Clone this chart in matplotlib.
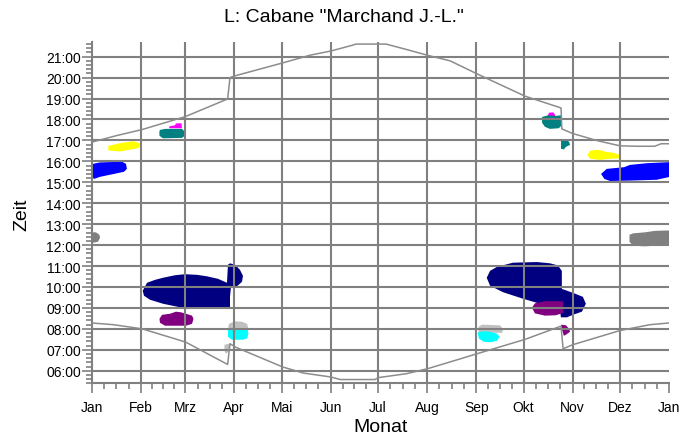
import matplotlib
matplotlib.use("Agg")
import matplotlib.pyplot as plt
from matplotlib.ticker import FixedLocator, FuncFormatter

plt.rcParams['font.family'] = ['Liberation Sans', 'DejaVu Sans']

# month starts (day of year) and labels
month_days = [0, 31, 59, 90, 120, 151, 181, 212, 243, 273, 304, 334, 365]
month_labels = ['Jan', 'Feb', 'Mrz', 'Apr', 'Mai', 'Jun', 'Jul', 'Aug',
                'Sep', 'Okt', 'Nov', 'Dez', 'Jan']
hour_ticks = list(range(6, 22))

# sunset (upper line), day of year vs. hour
sunset_day = [0, 15.6, 31.8, 59.2, 85.8, 87.3, 90.3, 120.6, 138, 151.2, 165, 167, 186,
              199, 212, 226.5, 243.5, 274, 296.7, 297.2, 304, 320, 334, 345, 356, 360, 365]
sunset_hour = [16.92, 17.23, 17.52, 18.14, 18.98, 20.0, 20.08, 20.70, 21.07, 21.27, 21.55, 21.6, 21.6,
               21.34, 21.07, 20.8, 20.18, 19.11, 18.55, 17.55, 17.33, 16.98, 16.74, 16.72, 16.72,
               16.84, 16.84]

# sunrise (lower line)
sunrise_day = [0, 13.5, 31.8, 59.2, 85.8, 87.3, 90.7, 120.6, 133.7, 151.2, 157, 179,
               181, 199, 212.4, 226.5, 243.5, 274, 296.7, 298, 304, 334, 353, 365]
sunrise_hour = [8.28, 8.2, 8.0, 7.37, 6.3, 7.29, 7.13, 6.18, 5.89, 5.7, 5.58, 5.58,
                5.67, 5.86, 6.1, 6.42, 6.81, 7.5, 8.13, 7.05, 7.24, 7.92, 8.2, 8.28]

# shadow areas: outline (day, hour) and colour
blue_jan_day = [0.6, 5.1, 19.0, 21.5, 22.1, 20.2, 12.7, 5.1, 1.3, 0, 0]
blue_jan_hour = [15.88, 15.95, 15.98, 15.88, 15.64, 15.5, 15.38, 15.26, 15.16, 15.26, 15.74]

yellow_jan_day = [10.3, 17.7, 29.3, 31.0, 26.1, 17.7, 10.3]
yellow_jan_hour = [16.52, 16.47, 16.63, 16.84, 16.96, 16.87, 16.73]

magenta_mar_day = [48.9, 48.9, 52.5, 53.1, 56.6, 56.9]
magenta_mar_hour = [17.58, 17.67, 17.72, 17.81, 17.82, 17.58]

teal_mar_day = [43.0, 46.2, 56.9, 58.8, 58.8, 56.9, 44.9, 42.7, 42.6]
teal_mar_hour = [17.5, 17.55, 17.55, 17.41, 17.22, 17.12, 17.10, 17.22, 17.41]

gray_jan_day = [0, 2.5, 4.7, 5.1, 3.8, 0.6, 0]
gray_jan_hour = [12.61, 12.61, 12.49, 12.35, 12.16, 12.11, 12.11]

navy_mar_day = [32.1, 34.8, 39.9, 44.9, 52.5, 58.8, 66.4, 72.7, 79.7, 85.4, 86.0, 87.3,
                90.5, 93.6, 95.5, 94.9, 91.7, 87.9, 87.3, 87.3, 68.3, 55.7, 44.9, 36.7, 32.9]
navy_mar_hour = [9.82, 10.2, 10.34, 10.44, 10.56, 10.61, 10.58, 10.51, 10.39, 10.2, 11.06, 11.13,
                 11.06, 10.82, 10.53, 10.25, 10.03, 9.99, 9.53, 8.96, 8.96, 9.03, 9.2, 9.39, 9.58]

purple_feb_day = [42.7, 44.3, 49.3, 53.1, 56.3, 59.5, 63.3, 64.2, 63.3, 59.5, 46.2, 43.0]
purple_feb_hour = [8.48, 8.67, 8.72, 8.82, 8.79, 8.72, 8.63, 8.48, 8.24, 8.15, 8.15, 8.29]

silver_apr_day = [86.0, 86.7, 90.5, 94.9, 98.1, 99.0, 98.7, 86.0]
silver_apr_hour = [8.0, 8.24, 8.36, 8.34, 8.24, 8.0, 7.86, 7.86]

cyan_apr_day = [86.0, 98.1, 99.0, 98.1, 95.5, 88.6, 86.0]
cyan_apr_hour = [7.96, 7.96, 7.77, 7.55, 7.48, 7.48, 7.62]

silver_mar_day = [83.8, 86.7, 87.0, 84.8, 83.8]
silver_mar_hour = [7.24, 7.29, 6.95, 6.81, 6.95]

navy_oct_day = [249.7, 251.8, 256.2, 266.3, 281.5, 289.7, 294.7, 297.2, 297.2, 304.2, 310.5,
                312.4, 309.9, 304.2, 300.4, 296.6, 296.0, 283.4, 272.6, 260.0, 251.8]
navy_oct_hour = [10.44, 10.77, 10.96, 11.16, 11.19, 11.13, 11.03, 10.77, 9.91, 9.72, 9.53,
                 9.2, 8.82, 8.67, 8.55, 8.55, 8.96, 9.2, 9.44, 9.75, 10.06]

purple_oct_day = [278.3, 280.2, 286.6, 297.9, 298.3, 293.5, 286.6, 280.2]
purple_oct_hour = [9.01, 9.22, 9.32, 9.32, 8.77, 8.65, 8.63, 8.74]

silver_sep_day = [244.5, 246.7, 258.1, 260.0, 259.4, 244.5]
silver_sep_hour = [8.1, 8.2, 8.17, 8.0, 7.81, 7.81]

cyan_sep_day = [243.9, 246.7, 251.8, 256.2, 257.8, 256.2, 251.8, 248.0, 244.8]
cyan_sep_hour = [7.81, 7.89, 7.86, 7.77, 7.62, 7.43, 7.36, 7.38, 7.53]

purple_nov_day = [296.7, 299.8, 301.8, 302.4, 299.8, 298.5, 297.3]
purple_nov_hour = [8.2, 8.17, 8.0, 7.86, 7.72, 7.67, 7.96]

magenta_oct_day = [288.2, 289.1, 291.7, 293.0, 293.0]
magenta_oct_hour = [18.17, 18.32, 18.34, 18.22, 18.12]

teal_oct_day = [284.7, 288.5, 293.5, 296.6, 297.3, 297.3, 295.3, 289.6, 286.5, 284.7]
teal_oct_hour = [18.12, 18.2, 18.17, 18.2, 18.03, 17.74, 17.58, 17.55, 17.65, 17.84]

teal_nov_day = [296.7, 299.8, 301.8, 302.4, 299.8, 298.5, 296.7]
teal_nov_hour = [17.07, 17.05, 16.93, 16.79, 16.69, 16.57, 16.6]

yellow_nov_day = [313.4, 315.0, 318.8, 322.6, 325.2, 330.2, 333.4, 333.4, 327.7, 321.4, 315.0]
yellow_nov_hour = [16.31, 16.5, 16.55, 16.52, 16.45, 16.41, 16.31, 16.14, 16.12, 16.07, 16.12]

blue_dec_day = [322.0, 325.6, 336.6, 340.3, 350.9, 364.6, 365, 365, 357.2, 340.3, 327.7, 324.1]
blue_dec_hour = [15.4, 15.64, 15.72, 15.83, 15.91, 15.96, 15.96, 15.25, 15.12, 15.08, 15.06, 15.16]

gray_dec_day = [340.0, 342.2, 349.8, 356.1, 364.4, 365, 365, 359.6, 349.8, 342.2, 340.0]
gray_dec_hour = [12.49, 12.56, 12.61, 12.68, 12.70, 12.68, 12.06, 11.99, 11.94, 11.97, 12.16]

shadows = [
    (blue_jan_day, blue_jan_hour, '#0000ff'),
    (yellow_jan_day, yellow_jan_hour, '#ffff00'),
    (magenta_mar_day, magenta_mar_hour, '#ff00ff'),
    (teal_mar_day, teal_mar_hour, '#008080'),
    (gray_jan_day, gray_jan_hour, '#808080'),
    (navy_mar_day, navy_mar_hour, '#000080'),
    (purple_feb_day, purple_feb_hour, '#800080'),
    (silver_apr_day, silver_apr_hour, '#c0c0c0'),
    (cyan_apr_day, cyan_apr_hour, '#00ffff'),
    (silver_mar_day, silver_mar_hour, '#c0c0c0'),
    (navy_oct_day, navy_oct_hour, '#000080'),
    (purple_oct_day, purple_oct_hour, '#800080'),
    (silver_sep_day, silver_sep_hour, '#c0c0c0'),
    (cyan_sep_day, cyan_sep_hour, '#00ffff'),
    (purple_nov_day, purple_nov_hour, '#800080'),
    (magenta_oct_day, magenta_oct_hour, '#ff00ff'),
    (teal_oct_day, teal_oct_hour, '#008080'),
    (teal_nov_day, teal_nov_hour, '#008080'),
    (yellow_nov_day, yellow_nov_hour, '#ffff00'),
    (blue_dec_day, blue_dec_hour, '#0000ff'),
    (gray_dec_day, gray_dec_hour, '#808080'),
]

grey = '#808080'

fig = plt.figure(figsize=(6.99, 4.39), dpi=100)
ax = fig.add_axes([0.1316, 0.1246, 0.8255, 0.7775])

for d, h, c in shadows:
    ax.fill(d, h, color=c, lw=0, zorder=1)

# grid
for m in month_days[1:-1]:
    ax.axvline(m, color=grey, lw=1.5, zorder=2)
for h in hour_ticks:
    ax.axhline(h, color=grey, lw=1.5, zorder=2)

ax.plot(sunset_day, sunset_hour, color='#8c8c8c', lw=1.1, zorder=3)
ax.plot(sunrise_day, sunrise_hour, color='#8c8c8c', lw=1.1, zorder=3)

ax.set_xlim(0, 365)
ax.set_ylim(5.4, 21.7)

for s in ['top', 'right']:
    ax.spines[s].set_visible(False)
for s in ['left', 'bottom']:
    ax.spines[s].set_color(grey)
    ax.spines[s].set_linewidth(1.5)

ax.set_xticks(month_days)
ax.set_xticklabels(month_labels)
minor_x = []
for a, b in zip(month_days[:-1], month_days[1:]):
    minor_x += [a + (b - a) * k / 4 for k in (1, 2, 3)]
ax.xaxis.set_minor_locator(FixedLocator(minor_x))

ax.set_yticks(hour_ticks)
ax.yaxis.set_major_formatter(FuncFormatter(lambda v, p: '%02d:00' % int(round(v))))
minor_y = [h + k / 5 for h in range(5, 22) for k in range(1, 5)]
minor_y = [v for v in minor_y if 5.4 <= v <= 21.7]
ax.yaxis.set_minor_locator(FixedLocator(minor_y))

ax.tick_params(axis='both', which='major', length=7, width=1.2, color=grey, labelsize=10)
ax.tick_params(axis='both', which='minor', length=4, width=1.2, color=grey)
ax.tick_params(axis='x', which='major', pad=5)
ax.tick_params(axis='y', which='major', pad=1)

ax.set_xlabel('Monat', fontsize=14, va='center')
ax.set_ylabel('Zeit', fontsize=14, va='center')
ax.xaxis.set_label_coords(0.5, -0.128)
ax.yaxis.set_label_coords(-0.121, 0.496)

fig.text(0.492, 1 - 17 / 439, 'L: Cabane "Marchand J.-L."', fontsize=14,
         ha='center', va='center')

fig.savefig('out.png', dpi=100)
